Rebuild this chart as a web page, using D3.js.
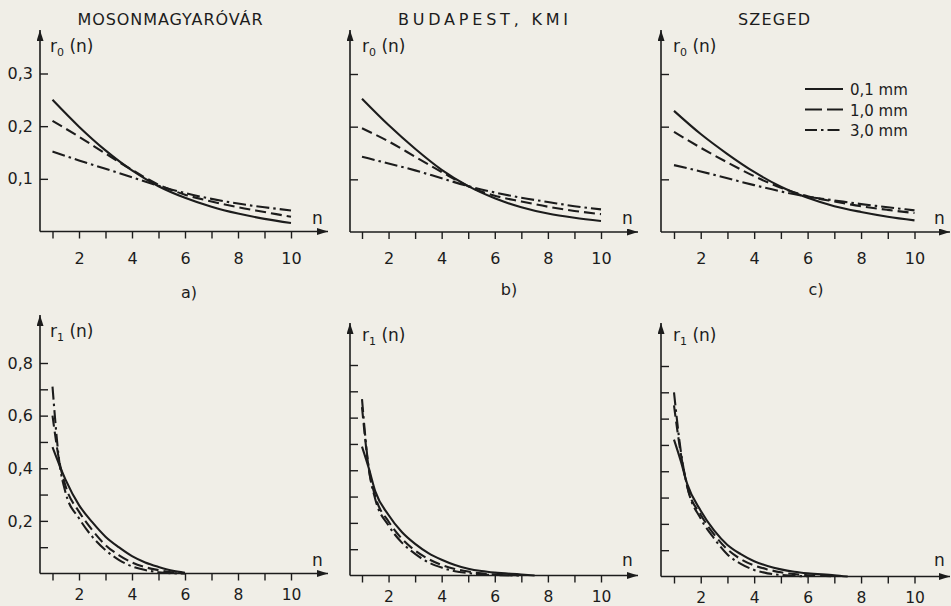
<!DOCTYPE html>
<meta charset="utf-8">
<script src="https://d3js.org/d3.v7.min.js"></script>
<style>
  body { margin: 0; background: #f0eee7; }
  svg text { font-family: "DejaVu Sans", sans-serif; fill: #1c1c1c; }
</style>
<body>
<div id="my_dataviz"></div>
<script>
    // lag n
    var nTop = [1, 2, 3, 4, 5, 6, 7, 8, 9, 10];
    var nBottom = [1, 1.25, 1.5, 2, 2.5, 3, 3.5, 4, 4.5, 5, 5.5, 6, 7, 7.5];

    var stations = ["MOSONMAGYARÓVÁR", "BUDAPEST, KMI", "SZEGED"];
    var panelLetters = ["a)", "b)", "c)"];
    var legendLabels = ["0,1 mm", "1,0 mm", "3,0 mm"];

    var xTicks = [1, 2, 3, 4, 5, 6, 7, 8, 9, 10];
    var xTickLabels = [2, 4, 6, 8, 10];
    var r0Ticks = [0.1, 0.2, 0.3];
    var r1Ticks = [0.1, 0.2, 0.3, 0.4, 0.5, 0.6, 0.7, 0.8];
    var r1TickLabels = [0.2, 0.4, 0.6, 0.8];

    // r0(n), one array per station and threshold (0,1 / 1,0 / 3,0 mm)
    var r0Moson01 = [0.250, 0.199, 0.154, 0.116, 0.086, 0.064, 0.047, 0.034, 0.024, 0.016];
    var r0Moson10 = [0.210, 0.180, 0.148, 0.117, 0.089, 0.070, 0.057, 0.046, 0.037, 0.028];
    var r0Moson30 = [0.152, 0.135, 0.119, 0.103, 0.087, 0.073, 0.062, 0.053, 0.046, 0.040];

    var r0Buda01 = [0.253, 0.203, 0.158, 0.118, 0.087, 0.064, 0.047, 0.035, 0.027, 0.021];
    var r0Buda10 = [0.197, 0.172, 0.143, 0.114, 0.087, 0.069, 0.058, 0.048, 0.040, 0.034];
    var r0Buda30 = [0.143, 0.130, 0.117, 0.102, 0.087, 0.075, 0.065, 0.057, 0.049, 0.043];

    var r0Szeged01 = [0.230, 0.186, 0.148, 0.114, 0.086, 0.065, 0.049, 0.038, 0.029, 0.022];
    var r0Szeged10 = [0.190, 0.160, 0.132, 0.106, 0.084, 0.068, 0.058, 0.049, 0.042, 0.036];
    var r0Szeged30 = [0.127, 0.115, 0.102, 0.089, 0.077, 0.067, 0.060, 0.053, 0.047, 0.041];

    // r1(n)
    var r1Moson01 = [0.48, 0.415, 0.355, 0.26, 0.195, 0.14, 0.10, 0.066, 0.042, 0.025, 0.011, 0.003, null, null];
    var r1Moson10 = [0.60, 0.43, 0.33, 0.235, 0.165, 0.108, 0.07, 0.042, 0.024, 0.013, 0.005, 0.001, null, null];
    var r1Moson30 = [0.71, 0.43, 0.305, 0.21, 0.14, 0.089, 0.052, 0.027, 0.013, 0.005, 0.001, 0, null, null];

    var r1Buda01 = [0.49, 0.41, 0.32, 0.23, 0.165, 0.12, 0.085, 0.06, 0.04, 0.026, 0.017, 0.011, 0.004, 0];
    var r1Buda10 = [0.64, 0.41, 0.30, 0.205, 0.14, 0.095, 0.063, 0.04, 0.025, 0.015, 0.008, 0.004, 0.001, null];
    var r1Buda30 = [0.67, 0.41, 0.29, 0.19, 0.125, 0.082, 0.05, 0.03, 0.016, 0.009, 0.004, 0.002, 0, null];

    var r1Szeged01 = [0.52, 0.44, 0.35, 0.25, 0.175, 0.12, 0.085, 0.058, 0.04, 0.027, 0.018, 0.012, 0.005, 0];
    var r1Szeged10 = [0.65, 0.47, 0.34, 0.235, 0.16, 0.103, 0.066, 0.042, 0.027, 0.016, 0.009, 0.005, 0.001, null];
    var r1Szeged30 = [0.70, 0.48, 0.34, 0.22, 0.145, 0.084, 0.048, 0.025, 0.012, 0.006, 0.002, 0.001, null, null];

    var r0Series = [
        [r0Moson01, r0Moson10, r0Moson30],
        [r0Buda01, r0Buda10, r0Buda30],
        [r0Szeged01, r0Szeged10, r0Szeged30]
    ];
    var r1Series = [
        [r1Moson01, r1Moson10, r1Moson30],
        [r1Buda01, r1Buda10, r1Buda30],
        [r1Szeged01, r1Szeged10, r1Szeged30]
    ];

    var ink = "#1c1c1c";
    var dashes = [null, "11,5", "13,4,2.5,4"];
    var commaFmt = function(d) { return d3.format(".1f")(d).replace(".", ","); };

    // panel placement (pixels)
    var cols = [
        { axisX: 40, x1: 52.5, x10: 291, tip: 328, topY0: 231.5, botY0: 573.5, botTip: 315, title: 170, letter: 189 },
        { axisX: 350, x1: 362, x10: 601, tip: 638, topY0: 232, botY0: 575.5, botTip: 323, title: 483, letter: 509 },
        { axisX: 661, x1: 674, x10: 914.5, tip: 950, topY0: 232, botY0: 576.5, botTip: 323, title: 774, letter: 816 }
    ];
    var titleWidths = [185, 170, 72];

    var svg = d3.select("#my_dataviz")
        .append("svg")
        .attr("width", 951)
        .attr("height", 606);

    svg.append("defs").append("marker")
        .attr("id", "arrow")
        .attr("markerUnits", "userSpaceOnUse")
        .attr("markerWidth", 12)
        .attr("markerHeight", 8)
        .attr("refX", 11)
        .attr("refY", 3.5)
        .attr("orient", "auto")
        .append("path")
        .attr("d", "M0,0 L11,3.5 L0,7 Z")
        .attr("fill", ink);

    function drawPanel(c, i, row) {
        var isTop = row === 0;
        var y0 = isTop ? c.topY0 : c.botY0;
        var x = d3.scaleLinear().domain([1, 10]).range([c.x1, c.x10]);
        var y = isTop
            ? d3.scaleLinear().domain([0, 0.3]).range([y0, y0 - 158])
            : d3.scaleLinear().domain([0, 0.8]).range([y0, y0 - 210.5]);

        var g = svg.append("g");

        // x axis ticks + labels
        var xAxis = g.append("g")
            .attr("transform", "translate(0," + y0 + ")")
            .call(d3.axisBottom(x)
                .tickValues(xTicks)
                .tickSizeInner(7)
                .tickSizeOuter(0)
                .tickPadding(isTop ? 14 : 8)
                .tickFormat(function(d) { return xTickLabels.indexOf(d) >= 0 ? d : ""; }));
        xAxis.select(".domain").remove();
        xAxis.selectAll("line").attr("stroke", ink).attr("stroke-width", 1.4);
        xAxis.selectAll("text").attr("font-size", isTop ? 16 : 15.5).attr("fill", ink)
            .attr("font-family", "DejaVu Sans, sans-serif");

        // y axis ticks (inward) + labels for first column only
        var yAxis = g.append("g")
            .attr("transform", "translate(" + c.axisX + ",0)")
            .call(d3.axisLeft(y)
                .tickValues(isTop ? r0Ticks : r1Ticks)
                .tickSizeInner(-8)
                .tickSizeOuter(0)
                .tickPadding(7)
                .tickFormat(function(d) {
                    if (i > 0) return "";
                    if (isTop) return commaFmt(d);
                    return r1TickLabels.indexOf(d) >= 0 ? commaFmt(d) : "";
                }));
        yAxis.select(".domain").remove();
        yAxis.selectAll("line").attr("stroke", ink).attr("stroke-width", 1.4);
        yAxis.selectAll("text").attr("font-size", 16).attr("fill", ink)
            .attr("font-family", "DejaVu Sans, sans-serif");

        // axis lines with arrows
        g.append("line")
            .attr("x1", c.axisX).attr("x2", c.tip)
            .attr("y1", y0).attr("y2", y0)
            .attr("stroke", ink).attr("stroke-width", 1.6)
            .attr("marker-end", "url(#arrow)");
        g.append("line")
            .attr("x1", c.axisX).attr("x2", c.axisX)
            .attr("y1", y0).attr("y2", isTop ? 30 : c.botTip)
            .attr("stroke", ink).attr("stroke-width", 1.6)
            .attr("marker-end", "url(#arrow)");

        // axis names
        var yName = g.append("text")
            .attr("x", c.axisX + (i === 0 ? 10 : 12))
            .attr("y", isTop ? 52 : (i === 0 ? 337 : 341))
            .attr("font-size", 17);
        yName.append("tspan").text("r");
        yName.append("tspan").attr("font-size", 11).attr("dy", 4).text(isTop ? "0" : "1");
        yName.append("tspan").attr("dy", -4).text(" (n)");

        g.append("text")
            .attr("x", c.tip - 16)
            .attr("y", isTop ? 224 : 566)
            .attr("font-size", 17)
            .text("n");

        // curves
        var nVals = isTop ? nTop : nBottom;
        var series = isTop ? r0Series[i] : r1Series[i];
        var line = d3.line()
            .defined(function(d) { return d[1] != null; })
            .x(function(d) { return x(d[0]); })
            .y(function(d) { return y(d[1]); })
            .curve(d3.curveMonotoneX);

        series.forEach(function(vals, k) {
            g.append("path")
                .datum(vals.map(function(v, j) { return [nVals[j], v]; }))
                .attr("fill", "none")
                .attr("stroke", ink)
                .attr("stroke-width", 2.1)
                .attr("stroke-dasharray", dashes[k])
                .attr("d", line);
        });

        if (isTop) {
            g.append("text")
                .attr("x", c.title)
                .attr("y", 25)
                .attr("text-anchor", "middle")
                .attr("font-size", 16)
                .attr("textLength", titleWidths[i])
                .attr("lengthAdjust", "spacing")
                .text(stations[i]);
            g.append("text")
                .attr("x", c.letter)
                .attr("y", i === 0 ? 298 : 295)
                .attr("text-anchor", "middle")
                .attr("font-size", 16)
                .text(panelLetters[i]);
        }
    }

    cols.forEach(function(c, i) {
        drawPanel(c, i, 0);
        drawPanel(c, i, 1);
    });

    // legend (panel c)
    var legend = svg.append("g");
    legendLabels.forEach(function(lbl, k) {
        var ly = 89 + k * 20.5;
        legend.append("line")
            .attr("x1", 805).attr("x2", 843)
            .attr("y1", ly).attr("y2", ly)
            .attr("stroke", ink).attr("stroke-width", 2)
            .attr("stroke-dasharray", k === 0 ? null : (k === 1 ? "17,5" : "12,4,2.5,4"));
        legend.append("text")
            .attr("x", 850)
            .attr("y", ly + 6)
            .attr("font-size", 15)
            .text(lbl);
    });
</script>
</body>
